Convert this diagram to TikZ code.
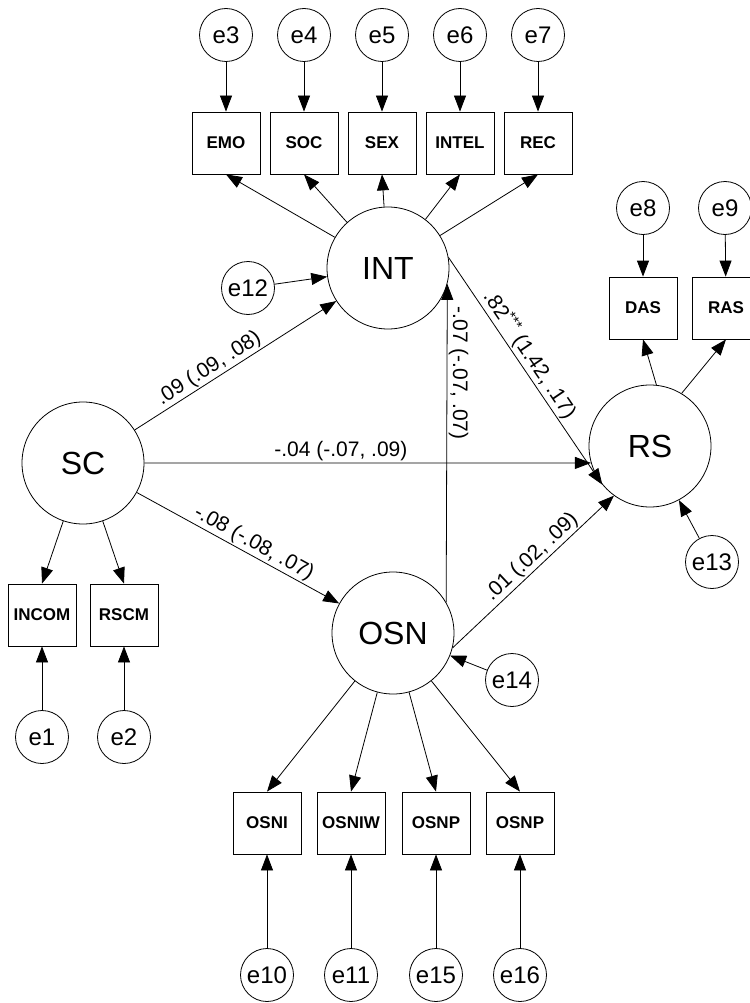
\documentclass[tikz,border=0pt]{standalone}
\usepackage{fontspec}
\setmainfont{Liberation Sans}
\usetikzlibrary{arrows.meta}
\begin{document}
\begin{tikzpicture}[x=1pt,y=-1pt,
  lat/.style={circle,draw,line width=0.8pt,minimum size=122pt,inner sep=0pt,
              font=\fontsize{32}{36}\selectfont},
  err/.style={circle,draw,line width=0.8pt,minimum size=53pt,inner sep=0pt,
              font=\fontsize{24}{28}\selectfont},
  obs/.style={rectangle,draw,line width=0.8pt,minimum width=68pt,minimum height=62pt,
              inner sep=0pt,font=\fontsize{17}{20}\selectfont\bfseries},
  link/.style={line width=0.8pt,-{Triangle[length=16pt,width=12pt]}},
  est/.style={font=\fontsize{21}{24}\selectfont,inner sep=1.5pt}]
\useasboundingbox (0,0) rectangle (749,1003);

% latent variables
\node[lat] (INT) at (388,268) {INT};
\node[lat] (RS)  at (650,446) {RS};
\node[lat] (SC)  at (83,463)  {SC};
\node[lat] (OSN) at (393,633) {OSN};

% indicators of INT
\node[obs] (EMO)   at (226,143) {EMO};
\node[obs] (SOC)   at (304,143) {SOC};
\node[obs] (SEX)   at (382,143) {SEX};
\node[obs] (INTEL) at (460,143) {INTEL};
\node[obs] (REC)   at (538,143) {REC};
\node[err] (e3) at (226,35) {e3};
\node[err] (e4) at (304,35) {e4};
\node[err] (e5) at (382,35) {e5};
\node[err] (e6) at (460,35) {e6};
\node[err] (e7) at (538,35) {e7};

% indicators of RS
\node[obs] (DAS) at (643,308) {DAS};
\node[obs] (RAS) at (726,308) {RAS};
\node[err] (e8) at (643,208) {e8};
\node[err] (e9) at (725,208) {e9};

% indicators of SC
\node[obs] (INCOM) at (42,615)  {INCOM};
\node[obs] (RSCM)  at (124,615) {RSCM};
\node[err] (e1) at (42,737)  {e1};
\node[err] (e2) at (124,737) {e2};

% indicators of OSN
\node[obs] (OSNI)  at (267,823) {OSNI};
\node[obs] (OSNIW) at (351,823) {OSNIW};
\node[obs] (OSNP)  at (436,823) {OSNP};
\node[obs] (OSNPb) at (520,823) {OSNP};
\node[err] (e10) at (267,975) {e10};
\node[err] (e11) at (351,975) {e11};
\node[err] (e15) at (436,975) {e15};
\node[err] (e16) at (520,975) {e16};

% disturbances
\node[err] (e12) at (248,288) {e12};
\node[err] (e13) at (712,562) {e13};
\node[err] (e14) at (512,680) {e14};

% measurement paths
\foreach \e/\b in {e3/EMO,e4/SOC,e5/SEX,e6/INTEL,e7/REC,e8/DAS,e9/RAS,
                   e1/INCOM,e2/RSCM,e10/OSNI,e11/OSNIW,e15/OSNP,e16/OSNPb}
  \draw[link] (\e) -- (\b);
\foreach \b in {EMO,SOC,SEX,INTEL,REC}
  \draw[link] (INT) -- (\b.south);
\draw[link] (RS.84) -- (DAS.south);
\draw[link] (RS.59) -- (RAS.south);
\draw[link] (SC) -- (INCOM.north);
\draw[link] (SC) -- (RSCM.north);
\foreach \b in {OSNI,OSNIW,OSNP,OSNPb}
  \draw[link] (OSN) -- (\b.north);

% disturbance paths
\draw[link] (e12) -- (INT);
\draw[link] (e13) -- (RS);
\draw[link] (e14) -- (OSN);

% structural paths
\draw[link] (SC) -- node[est,pos=0.4,sloped,above] {.09 (.09, .08)} (INT);
\draw[link] (SC.east) -- node[est,pos=0.44,above] {-.04 (-.07, .09)} (RS.196);
\draw[link] (SC) -- node[est,pos=0.55,sloped,above] {-.08 (-.08, .07)} (OSN);
\draw[link] (INT.10) -- node[est,pos=0.46,sloped,above] {.82\textsuperscript{***} (1.42, .17)} (RS.219);
\draw[link] (OSN.30) -- node[est,pos=0.72,rotate=-90,anchor=south] {-.07 (-.07, .07)} (INT.-15);
\draw[link] (OSN.-14) -- node[est,pos=0.54,sloped,above] {.01 (.02, .09)} (RS.234);
\end{tikzpicture}
\end{document}
